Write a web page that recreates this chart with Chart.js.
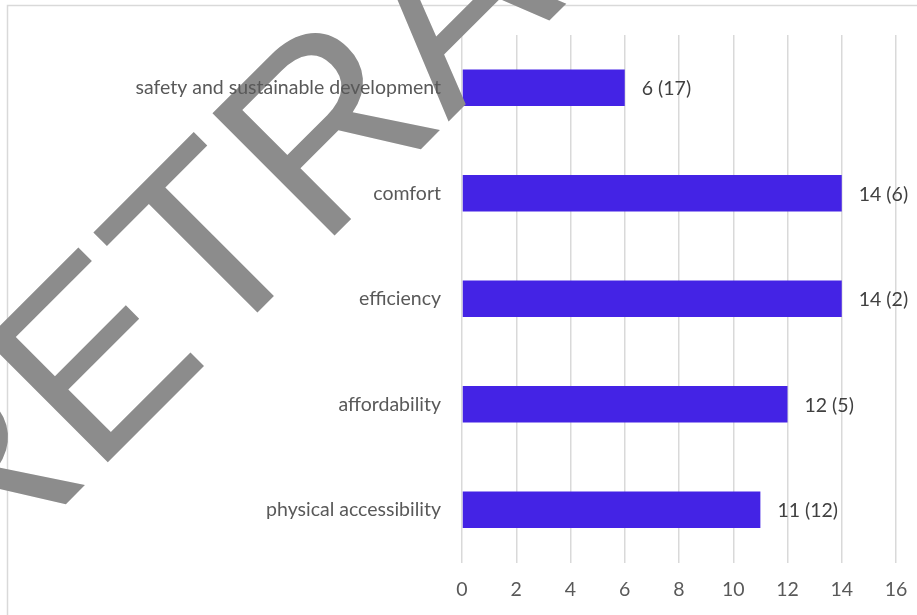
<!DOCTYPE html>
<html>
<head>
<meta charset="utf-8">
<script src="https://cdn.jsdelivr.net/npm/chart.js@4/dist/chart.umd.min.js"></script>
<style>
  html, body { margin: 0; padding: 0; background: #ffffff; }
  #wrap { width: 917px; height: 615px; }
</style>
</head>
<body>
<div id="wrap"><canvas id="chart" width="917" height="615"></canvas></div>
<script>
// Categories, top to bottom
const categories = [
  'safety and sustainable development',
  'comfort',
  'efficiency',
  'affordability',
  'physical accessibility'
];
// Bar values
const values = [6, 14, 14, 12, 11];
// Numbers shown in brackets after each value
const bracketValues = [17, 6, 2, 5, 12];
// Value axis ticks
const axisMin = 0;
const axisMax = 16;
const axisStep = 2;

const FONT = 'Lato, "Open Sans", sans-serif';
const FONT_SIZE = 19.5;

// Light frame around the whole chart
const framePlugin = {
  id: 'frame',
  beforeDraw(chart) {
    const ctx = chart.ctx;
    ctx.save();
    ctx.fillStyle = '#ffffff';
    ctx.fillRect(0, 0, chart.width, chart.height);
    ctx.strokeStyle = '#d9d9d9';
    ctx.lineWidth = 1.5;
    ctx.strokeRect(7.5, 5.5, chart.width + 20, chart.height + 20);
    ctx.restore();
  }
};

// Diagonal stamp: above the bars, below the text
const stampPlugin = {
  id: 'stamp',
  afterDatasetsDraw(chart) {
    const ctx = chart.ctx;
    ctx.save();
    ctx.translate(-35, 605);
    ctx.rotate(-Math.PI / 4);
    ctx.font = '251px "Liberation Sans", Arial, sans-serif';
    ctx.fillStyle = '#8c8c8c';
    ctx.textAlign = 'left';
    ctx.textBaseline = 'alphabetic';
    ctx.fillText('RETRACTED', 0, 0);
    ctx.restore();
  }
};

// "value (bracket)" labels just past the end of each bar
const valueLabelPlugin = {
  id: 'valueLabels',
  afterDatasetsDraw(chart) {
    const ctx = chart.ctx;
    const meta = chart.getDatasetMeta(0);
    ctx.save();
    ctx.font = FONT_SIZE + 'px ' + FONT;
    ctx.fillStyle = '#404040';
    ctx.textAlign = 'left';
    ctx.textBaseline = 'middle';
    meta.data.forEach((bar, i) => {
      ctx.fillText(values[i] + ' (' + bracketValues[i] + ')', bar.x + 17, bar.y + 1);
    });
    ctx.restore();
  }
};

new Chart(document.getElementById('chart'), {
  type: 'bar',
  data: {
    labels: categories,
    datasets: [{
      data: values,
      backgroundColor: '#4423e5',
      borderWidth: 0,
      categoryPercentage: 1,
      barPercentage: 0.346
    }]
  },
  options: {
    indexAxis: 'y',
    responsive: false,
    devicePixelRatio: 1,
    animation: false,
    layout: { padding: { left: 0, right: 21, top: 35, bottom: 0 } },
    plugins: {
      legend: { display: false },
      tooltip: { enabled: false }
    },
    scales: {
      x: {
        min: axisMin,
        max: axisMax,
        ticks: {
          stepSize: axisStep,
          color: '#595959',
          font: { family: FONT, size: FONT_SIZE },
          padding: 0
        },
        grid: {
          color: '#d9d9d9',
          lineWidth: 1.5,
          drawTicks: true,
          tickLength: 16,
          tickColor: 'rgba(0,0,0,0)'
        },
        border: { display: false },
        afterFit(scale) { scale.height = 52.5; }
      },
      y: {
        ticks: {
          color: '#595959',
          font: { family: FONT, size: FONT_SIZE },
          padding: 21,
          z: 1
        },
        grid: { display: false, drawTicks: false },
        border: { display: false },
        afterFit(scale) { scale.width = 462; }
      }
    }
  },
  plugins: [framePlugin, stampPlugin, valueLabelPlugin]
});
</script>
</body>
</html>
